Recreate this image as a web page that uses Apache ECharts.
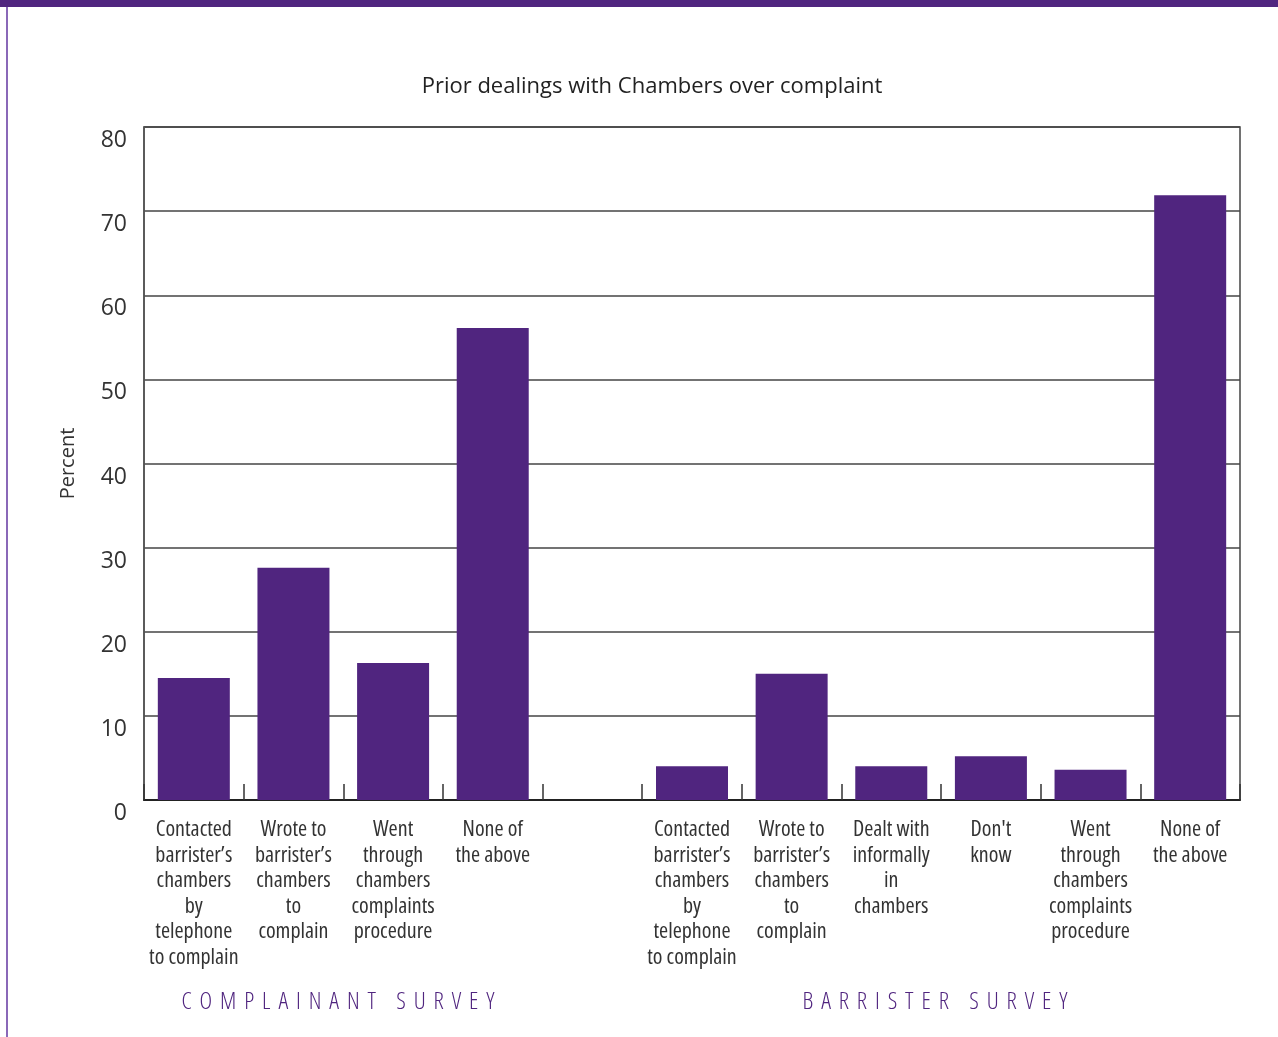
<!DOCTYPE html>
<html>
<head>
<meta charset="utf-8">
<title>Prior dealings with Chambers over complaint</title>
<script src="https://cdn.jsdelivr.net/npm/echarts@6/dist/echarts.min.js"></script>
<style>
  html, body { margin: 0; padding: 0; background: #fff; }
  #chart { width: 1278px; height: 1037px; }
</style>
</head>
<body>
<div id="chart"></div>
<script>
// Categories: complainant survey, an empty spacer slot, then barrister survey
const categories = [
  'Contacted\nbarrister\u2019s\nchambers\nby\ntelephone\nto complain',
  'Wrote to\nbarrister\u2019s\nchambers\nto\ncomplain',
  'Went\nthrough\nchambers\ncomplaints\nprocedure',
  'None of\nthe above',
  '',
  'Contacted\nbarrister\u2019s\nchambers\nby\ntelephone\nto complain',
  'Wrote to\nbarrister\u2019s\nchambers\nto\ncomplain',
  'Dealt with\ninformally\nin\nchambers',
  "Don't\nknow",
  'Went\nthrough\nchambers\ncomplaints\nprocedure',
  'None of\nthe above'
];

// Percent of respondents
const percentValues = [14.5, 27.6, 16.3, 56.1, null, 4.0, 15.0, 4.0, 5.2, 3.6, 71.9];

const yTicks = { min: 0, max: 80, interval: 10 };

const groupLabels = ['COMPLAINANT SURVEY', 'BARRISTER SURVEY'];

const purple = '#50257f';
const family = '"Open Sans"';
const sans = '"Open Sans", "Noto Sans", sans-serif';
// font-stretch rides in the weight slot of the canvas font shorthand
const narrowWeight = 'normal condensed';
const captionWeight = '300 condensed';

// Letter-spaced caption: one text element per character, centred on cx
function trackedCaption(text, cx, cy, size, tracking) {
  const ctx = document.createElement('canvas').getContext('2d');
  ctx.font = 'normal ' + captionWeight + ' ' + size + 'px ' + family;
  const chars = Array.from(text);
  const widths = chars.map(c => ctx.measureText(c).width);
  const total = widths.reduce((a, b) => a + b, 0) + tracking * (chars.length - 1);
  let x = cx - total / 2;
  return chars.map((c, i) => {
    const el = {
      type: 'text', x: x, y: cy, z: 10, silent: true,
      style: {
        text: c, align: 'left', verticalAlign: 'middle',
        fontFamily: sans, fontWeight: captionWeight, fontSize: size, fill: purple
      }
    };
    x += widths[i] + tracking;
    return el;
  });
}

const chart = echarts.init(document.getElementById('chart'), null, { renderer: 'canvas' });

chart.setOption({
  animation: false,
  backgroundColor: '#fff',
  title: {
    text: 'Prior dealings with Chambers over complaint',
    left: 647,
    top: 71,
    textAlign: 'center',
    textStyle: { fontFamily: sans, fontSize: 22, fontWeight: 'normal', color: '#222' }
  },
  grid: {
    left: 144, right: 38, top: 127, bottom: 237,
    show: true, borderColor: '#444', borderWidth: 1.5, backgroundColor: 'transparent'
  },
  xAxis: {
    type: 'category',
    data: categories,
    axisLine: { show: true, lineStyle: { color: '#222', width: 2 } },
    axisTick: { show: true, inside: true, length: 16, interval: 0, lineStyle: { color: '#333', width: 1.5 } },
    axisLabel: {
      interval: 0,
      margin: 17,
      fontFamily: sans,
      fontWeight: narrowWeight,
      fontSize: 22,
      lineHeight: 25.6,
      color: '#333',
      align: 'center'
    },
    splitLine: { show: false }
  },
  yAxis: {
    type: 'value',
    min: yTicks.min, max: yTicks.max, interval: yTicks.interval,
    name: 'Percent',
    nameLocation: 'middle',
    nameGap: 66,
    nameRotate: 90,
    nameTextStyle: { fontFamily: sans, fontSize: 20, color: '#333' },
    axisLine: { show: true, lineStyle: { color: '#555', width: 1.5 } },
    axisTick: { show: false },
    axisLabel: {
      margin: 17, fontFamily: sans, fontSize: 23, color: '#333',
      verticalAlign: 'top', padding: [2, 0, 0, 0]
    },
    splitLine: { show: true, lineStyle: { color: '#444', width: 1.5 } }
  },
  series: [{
    type: 'bar',
    data: percentValues,
    barWidth: 72,
    itemStyle: { color: purple },
    z: 3
  }],
  graphic: [
    { type: 'rect', left: 0, top: 0, shape: { width: 1278, height: 7 }, style: { fill: purple }, z: 10 },
    { type: 'rect', left: 6, top: 7, shape: { width: 2, height: 1030 }, style: { fill: '#8a68b8' }, z: 10 },
    ...trackedCaption(groupLabels[0], 338, 1002, 24, 7.9),
    ...trackedCaption(groupLabels[1], 935, 1002, 24, 7.9)
  ]
});
</script>
</body>
</html>
